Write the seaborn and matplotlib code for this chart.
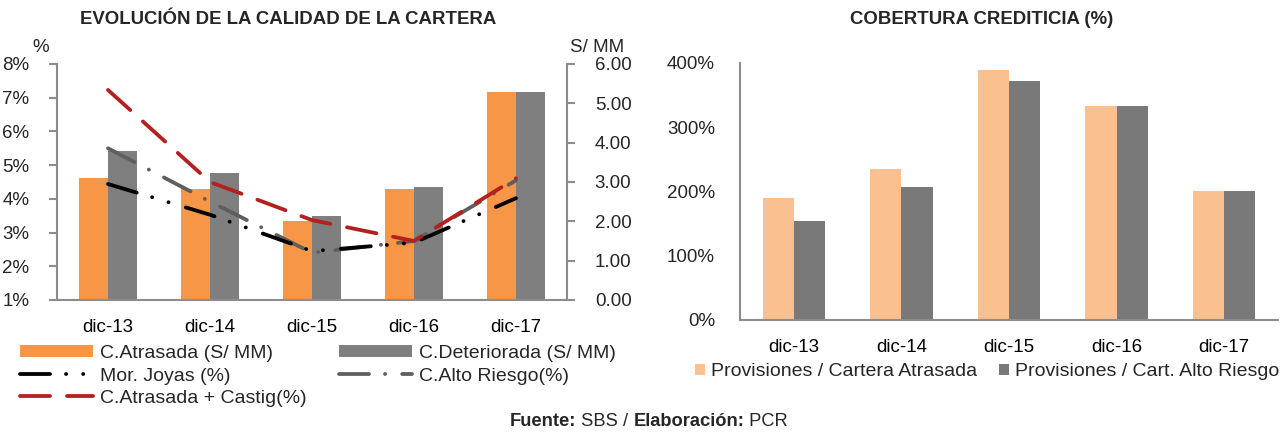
import numpy as np
import pandas as pd
import matplotlib
matplotlib.use("Agg")
import matplotlib.pyplot as plt
import seaborn as sns
from matplotlib.lines import Line2D
from matplotlib.patches import Patch
from matplotlib.ticker import FuncFormatter

# ---------------- data ----------------
periodos = ["dic-13", "dic-14", "dic-15", "dic-16", "dic-17"]

# Cartera en S/ MM (eje derecho del primer gráfico)
cartera_atrasada = [3.11, 2.82, 2.02, 2.82, 5.28]
cartera_deteriorada = [3.80, 3.22, 2.14, 2.88, 5.28]

# Indicadores en % (eje izquierdo del primer gráfico)
mor_joyas = [4.44, 3.53, 2.45, 2.70, 4.02]
alto_riesgo = [5.50, 3.92, 2.40, 2.75, 4.55]
atrasada_castig = [7.23, 4.50, 3.37, 2.75, 4.61]

# Cobertura crediticia (%)
prov_cartera_atrasada = [190, 235, 389, 333, 200]
prov_alto_riesgo = [154, 207, 372, 333, 200]

pct_ticks = [1, 2, 3, 4, 5, 6, 7, 8]
mm_ticks = [0, 1, 2, 3, 4, 5, 6]
cob_ticks = [0, 100, 200, 300, 400]

lbl_atrasada = "C.Atrasada (S/ MM)"
lbl_deteriorada = "C.Deteriorada (S/ MM)"
lbl_joyas = "Mor. Joyas (%)"
lbl_riesgo = "C.Alto Riesgo(%)"
lbl_castig = "C.Atrasada + Castig(%)"
lbl_prov1 = "Provisiones / Cartera Atrasada"
lbl_prov2 = "Provisiones / Cart. Alto Riesgo"

# ---------------- style ----------------
sns.set_style("white")
plt.rcParams["font.family"] = ["Liberation Sans", "DejaVu Sans"]
plt.rcParams["lines.scale_dashes"] = False

ORANGE = "#F79646"
GRAY_BAR = "#7F7F7F"
PEACH = "#FAC090"
GRAY_BAR2 = "#797979"
RED = "#B3201F"
DGRAY = "#5F5F5F"
BLACK = "#000000"
AXIS = "#8C8C8C"

PX = 0.72  # points per pixel at 100 dpi
LW = 3.8 * PX
DASH_RED = (0, (30 * PX, 17 * PX))
DASH_JOYAS = (0, (30 * PX, 16 * PX, 0.1, 17 * PX, 0.1, 18 * PX))
DASH_RIESGO = (0, (30 * PX, 16 * PX, 0.1, 17 * PX))

W, H = 1283, 432
fig = plt.figure(figsize=(W / 100, H / 100), dpi=100)

TICK_FS = 13.5


def style_x(ax, labels):
    ax.set_xlim(-0.5, len(labels) - 0.5)
    ax.set_xticks(np.arange(-0.5, len(labels), 1.0))
    ax.set_xticks(np.arange(len(labels)), labels, minor=True)
    ax.tick_params(axis="x", which="major", length=6, width=1.5, color=AXIS,
                   labelbottom=False, direction="out")
    ax.tick_params(axis="x", which="minor", length=0, pad=14,
                   labelsize=TICK_FS, labelcolor="black")
    ax.set_xlabel("")


# ---------------- left chart ----------------
ax_pct = fig.add_axes([57 / W, 1 - 300 / H, 510 / W, 236 / H])
ax_mm = ax_pct.twinx()

df_mm = pd.DataFrame({
    "periodo": periodos * 2,
    "monto": cartera_atrasada + cartera_deteriorada,
    "serie": [lbl_atrasada] * len(periodos) + [lbl_deteriorada] * len(periodos),
})
sns.barplot(data=df_mm, x="periodo", y="monto", hue="serie",
            palette=[ORANGE, GRAY_BAR], width=0.57, saturation=1,
            linewidth=0, errorbar=None, legend=False, ax=ax_mm)

line_specs = [
    (alto_riesgo, DGRAY, DASH_RIESGO),
    (mor_joyas, BLACK, DASH_JOYAS),
    (atrasada_castig, RED, DASH_RED),
]
for values, color, dash in line_specs:
    sns.lineplot(x=periodos, y=values, ax=ax_pct, color=color, lw=LW,
                 linestyle=dash, dash_capstyle="round", sort=False)

ax_pct.set_zorder(ax_mm.get_zorder() + 1)
ax_pct.patch.set_visible(False)

ax_pct.set_ylim(1, 8)
ax_pct.set_yticks(pct_ticks)
ax_pct.yaxis.set_major_formatter(FuncFormatter(lambda v, p: f"{v:.0f}%"))
ax_mm.set_ylim(0, 6)
ax_mm.set_yticks(mm_ticks)
ax_mm.yaxis.set_major_formatter(FuncFormatter(lambda v, p: f"{v:.2f}"))

for a in (ax_pct, ax_mm):
    a.set_ylabel("")
    a.set_xlabel("")
    for s in a.spines.values():
        s.set_visible(False)
        s.set_color(AXIS)
        s.set_linewidth(1.5)
ax_pct.spines["left"].set_visible(True)
ax_pct.spines["bottom"].set_visible(True)
ax_mm.spines["right"].set_visible(True)

ax_pct.tick_params(axis="y", length=6, width=1.5, color=AXIS, pad=14,
                   labelsize=TICK_FS, direction="out")
ax_mm.tick_params(axis="y", length=6, width=1.5, color=AXIS, pad=14,
                  labelsize=TICK_FS, direction="out")
style_x(ax_pct, periodos)

fig.text(41 / W, 1 - 47 / H, "%", ha="center", va="center", fontsize=TICK_FS)
fig.text(597 / W, 1 - 47 / H, "S/ MM", ha="center", va="center", fontsize=TICK_FS)
fig.text(288 / W, 1 - 20 / H, "EVOLUCIÓN DE LA CALIDAD DE LA CARTERA",
         ha="center", va="center", fontsize=13.4, fontweight="bold")

left_handles = [
    Patch(facecolor=ORANGE, edgecolor="none"),
    Line2D([], [], color=BLACK, lw=LW, linestyle=DASH_JOYAS, dash_capstyle="round"),
    Line2D([], [], color=RED, lw=LW, linestyle=DASH_RED, dash_capstyle="round"),
    Patch(facecolor=GRAY_BAR, edgecolor="none"),
    Line2D([], [], color=DGRAY, lw=LW, linestyle=DASH_RIESGO, dash_capstyle="round"),
]
left_labels = [lbl_atrasada, lbl_joyas, lbl_castig, lbl_deteriorada, lbl_riesgo]
fig.legend(left_handles, left_labels, ncol=2, loc="center left",
           bbox_to_anchor=(20 / W, 1 - 376 / H), frameon=False, fontsize=14,
           handlelength=3.75, handleheight=0.6, handletextpad=0.36,
           labelspacing=0.28, columnspacing=1.65, borderpad=0, borderaxespad=0)

# ---------------- right chart ----------------
ax_cob = fig.add_axes([740 / W, 1 - 320 / H, 538 / W, 257.3 / H])
df_cob = pd.DataFrame({
    "periodo": periodos * 2,
    "cobertura": prov_cartera_atrasada + prov_alto_riesgo,
    "serie": [lbl_prov1] * len(periodos) + [lbl_prov2] * len(periodos),
})
sns.barplot(data=df_cob, x="periodo", y="cobertura", hue="serie",
            palette=[PEACH, GRAY_BAR2], width=0.58, saturation=1,
            linewidth=0, errorbar=None, legend=False, ax=ax_cob)
ax_cob.set_ylim(0, 400)
ax_cob.set_yticks(cob_ticks)
ax_cob.yaxis.set_major_formatter(FuncFormatter(lambda v, p: f"{v:.0f}%"))
ax_cob.set_ylabel("")
for name, s in ax_cob.spines.items():
    s.set_color(AXIS)
    s.set_linewidth(1.5)
    s.set_visible(name in ("left", "bottom"))
ax_cob.tick_params(axis="y", length=6, width=1.5, color=AXIS, pad=12,
                   labelsize=TICK_FS, direction="out")
style_x(ax_cob, periodos)

fig.text(982 / W, 1 - 20 / H, "COBERTURA CREDITICIA (%)",
         ha="center", va="center", fontsize=13.4, fontweight="bold")

fig.legend([Patch(facecolor=PEACH, edgecolor="none"),
            Patch(facecolor=GRAY_BAR2, edgecolor="none")],
           [lbl_prov1, lbl_prov2], ncol=2, loc="center",
           bbox_to_anchor=(987 / W, 1 - 372 / H), frameon=False, fontsize=14,
           handlelength=0.55, handleheight=0.55, handletextpad=0.3,
           columnspacing=1.1, borderpad=0, borderaxespad=0)

# ---------------- source line ----------------
renderer = fig.canvas.get_renderer()
parts = [("Fuente:", "bold"), (" SBS / ", "normal"),
         ("Elaboración:", "bold"), (" PCR", "normal")]
texts = []
for s, w in parts:
    t = fig.text(0, 1 - 422 / H, s, fontsize=13.2, fontweight=w, va="center", ha="left")
    texts.append(t)
widths = [t.get_window_extent(renderer).width for t in texts]
x = 649 - sum(widths) / 2
for t, w in zip(texts, widths):
    t.set_x(x / W)
    x += w

fig.savefig("out.png", dpi=100)
